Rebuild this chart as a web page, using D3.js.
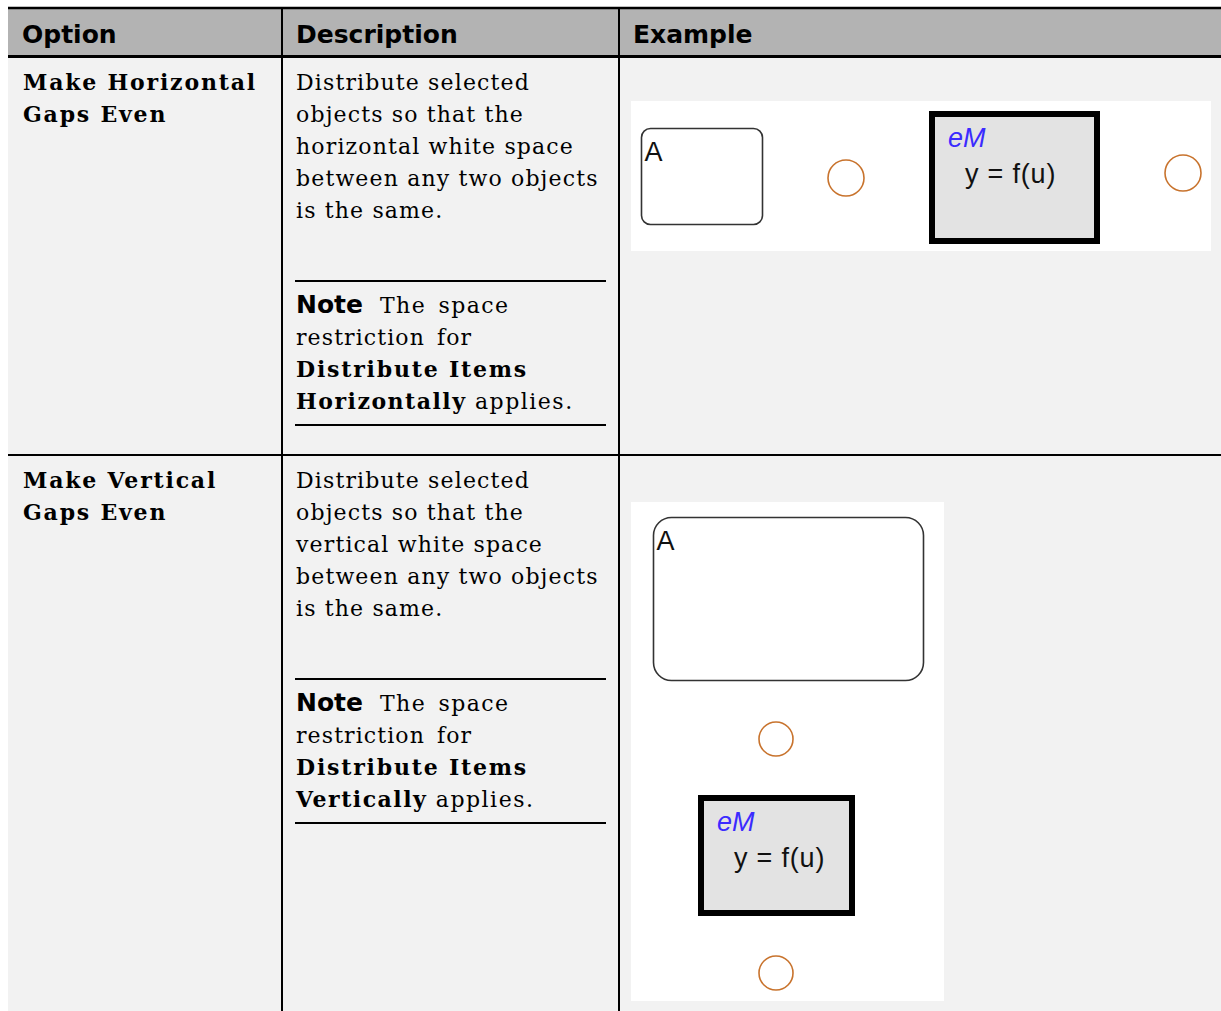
<!DOCTYPE html>
<html><head><meta charset="utf-8">
<script src="https://cdn.jsdelivr.net/npm/d3@7"></script>
<style>html,body{margin:0;padding:0;background:#fff;}svg{display:block;}</style>
</head><body>
<svg id="c" width="1221" height="1011"></svg>
<script>
// ---- data ----
const columns = ["Option", "Description", "Example"];
const optionLines = [["Make Horizontal", "Gaps Even"], ["Make Vertical", "Gaps Even"]];
const descriptionLines = [
  ["Distribute selected", "objects so that the", "horizontal white space", "between any two objects", "is the same."],
  ["Distribute selected", "objects so that the", "vertical white space", "between any two objects", "is the same."]
];
const noteWords = [["Distribute Items", "Horizontally"], ["Distribute Items", "Vertically"]];
const stateLabel = "A";
const blockTitle = "eM";
const blockBody = "y = f(u)";

// ---- layout ----
const svg = d3.select("#c");
const W = 1221, H = 1011;
const x = d3.scaleOrdinal().domain(columns).range([8, 282, 619]);
const headerTop = 8, headerBottom = 57;
const rowTops = [57, 455], rowBottom = [455, 1011];
const serif = "'DejaVu Serif', serif";
const sansB = "'DejaVu Sans', sans-serif";
const diaFont = "'Liberation Sans', Arial, sans-serif";

// backgrounds
svg.append("rect").attr("x", 8).attr("y", headerTop).attr("width", W - 8).attr("height", headerBottom - headerTop).attr("fill", "#b3b3b3");
svg.selectAll("rect.row").data(rowTops).join("rect").attr("class", "row")
  .attr("x", 8).attr("y", d => d).attr("width", W - 8).attr("height", (d, i) => rowBottom[i] - d).attr("fill", "#f2f2f2");

// header text
svg.selectAll("text.hdr").data(columns).join("text").attr("class", "hdr")
  .attr("x", d => x(d) + 14).attr("y", 43)
  .attr("font-family", sansB).attr("font-weight", "bold").attr("font-size", 25)
  .attr("fill", "#000").text(d => d);

// grid lines
svg.append("line").attr("x1", 8).attr("x2", W).attr("y1", 8).attr("y2", 8).attr("stroke", "#000").attr("stroke-width", 2.5);
svg.append("line").attr("x1", 8).attr("x2", W).attr("y1", 56.5).attr("y2", 56.5).attr("stroke", "#000").attr("stroke-width", 3);
svg.append("line").attr("x1", 8).attr("x2", W).attr("y1", 455).attr("y2", 455).attr("stroke", "#000").attr("stroke-width", 2);
svg.selectAll("line.vcol").data(columns.slice(1)).join("line").attr("class", "vcol")
  .attr("x1", d => x(d)).attr("x2", d => x(d)).attr("y1", 8).attr("y2", H)
  .attr("stroke", "#000").attr("stroke-width", 2);

const lineH = 32;
// option column
optionLines.forEach((lines, r) => {
  svg.append("g").selectAll("text").data(lines).join("text")
    .attr("x", x("Option") + 15).attr("y", (d, i) => rowTops[r] + 33 + i * lineH)
    .attr("font-family", serif).attr("font-weight", "bold").attr("font-size", 22)
    .attr("letter-spacing", 1.8).attr("fill", "#000").text(d => d);
});

// description column
const dx = x("Description") + 14;
descriptionLines.forEach((lines, r) => {
  const top = rowTops[r];
  svg.append("g").selectAll("text").data(lines).join("text")
    .attr("x", dx).attr("y", (d, i) => top + 33 + i * lineH)
    .attr("font-family", serif).attr("font-size", 22).attr("letter-spacing", 1.15)
    .attr("fill", "#000").text(d => d);
  // rules
  const r1 = top + 224, r2 = top + 368;
  [r1, r2].forEach(yy => svg.append("line").attr("x1", dx - 1).attr("x2", 606).attr("y1", yy).attr("y2", yy).attr("stroke", "#000").attr("stroke-width", 2));
  // note
  const nb = top + 256;
  const t1 = svg.append("text").attr("x", dx).attr("y", nb).attr("font-family", serif).attr("font-size", 22).attr("letter-spacing", 1.4);
  t1.append("tspan").attr("font-family", sansB).attr("font-weight", "bold").attr("font-size", 25).attr("letter-spacing", 0).text("Note");
  t1.append("tspan").attr("dx", 17).attr("word-spacing", 4).text("The space");
  svg.append("text").attr("x", dx).attr("y", nb + lineH).attr("font-family", serif).attr("font-size", 22).attr("letter-spacing", 1.1).attr("word-spacing", 4).text("restriction for");
  svg.append("text").attr("x", dx).attr("y", nb + 2 * lineH).attr("font-family", serif).attr("font-weight", "bold").attr("font-size", 22).attr("letter-spacing", 1.8).text(noteWords[r][0]);
  const t4 = svg.append("text").attr("x", dx).attr("y", nb + 3 * lineH).attr("font-family", serif).attr("font-size", 22).attr("letter-spacing", 1.5);
  t4.append("tspan").attr("font-weight", "bold").text(noteWords[r][1]);
  t4.append("tspan").text(" applies.");
});

// ---- example diagrams ----
const orange = "#c8732d";
function stateBox(g, x0, y0, w, h, rad) {
  g.append("rect").attr("x", x0).attr("y", y0).attr("width", w).attr("height", h).attr("rx", rad)
    .attr("fill", "#fff").attr("stroke", "#333").attr("stroke-width", 1.6);
  g.append("text").attr("x", x0 + 3).attr("y", y0 + 32).attr("font-family", diaFont).attr("font-size", 27).attr("fill", "#111").text(stateLabel);
}
function junction(g, cx, cy, r) {
  g.append("circle").attr("cx", cx).attr("cy", cy).attr("r", r).attr("fill", "#fff").attr("stroke", orange).attr("stroke-width", 1.6);
}
function block(g, x0, y0, w, h) {
  g.append("rect").attr("x", x0 + 3).attr("y", y0 + 3).attr("width", w - 6).attr("height", h - 6)
    .attr("fill", "#e3e3e3").attr("stroke", "#000").attr("stroke-width", 6);
  g.append("text").attr("x", x0 + 19).attr("y", y0 + 36).attr("font-family", diaFont).attr("font-style", "italic").attr("font-size", 27).attr("fill", "#3b2bff").text(blockTitle);
  g.append("text").attr("x", x0 + 36).attr("y", y0 + 72).attr("font-family", diaFont).attr("font-size", 27).attr("letter-spacing", 0.8).attr("fill", "#111").text(blockBody);
}

const g1 = svg.append("g");
g1.append("rect").attr("x", 631).attr("y", 101).attr("width", 580).attr("height", 150).attr("fill", "#fff");
stateBox(g1, 641.5, 128.5, 121, 96, 9);
junction(g1, 846, 178, 18);
block(g1, 929, 111, 171, 133);
junction(g1, 1183, 173, 18);

const g2 = svg.append("g");
g2.append("rect").attr("x", 631).attr("y", 502).attr("width", 313).attr("height", 499).attr("fill", "#fff");
stateBox(g2, 653.5, 517.5, 270, 163, 18);
junction(g2, 776, 739, 17);
block(g2, 698, 795, 157, 121);
junction(g2, 776, 973, 17);
</script>
</body></html>
